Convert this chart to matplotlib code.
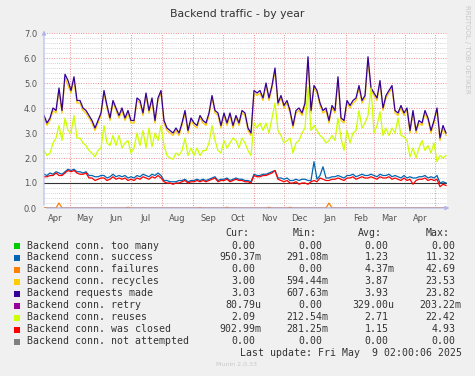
import matplotlib
matplotlib.use('Agg')
import matplotlib.pyplot as plt
import matplotlib.dates as mdates
from matplotlib.ticker import MultipleLocator, NullFormatter
from matplotlib.patches import Rectangle
import pandas as pd

# samples every 3 days, starting early April 2024
start = '2024-04-05'
step = '3D'

requests = [3.7, 3.4, 3.6, 4.0, 3.9, 4.8, 3.9, 5.35, 5.1, 4.7,
            5.25, 4.3, 4.3, 4.0, 3.9, 3.7, 3.5, 3.2, 3.5, 3.8,
            4.7, 4.1, 3.6, 4.3, 4.0, 3.7, 4.0, 3.6, 3.9, 3.5,
            3.5, 4.4, 4.3, 3.8, 4.6, 3.9, 4.4, 3.5, 4.4, 4.7,
            3.5, 3.2, 3.1, 3.0, 3.2, 3.0, 3.4, 3.9, 3.1, 3.6,
            3.4, 3.3, 3.7, 3.5, 3.4, 3.8, 4.5, 3.9, 3.8, 3.3,
            3.8, 3.4, 3.8, 3.3, 3.7, 3.4, 3.9, 3.8, 3.2, 3.0,
            4.7, 4.6, 4.7, 4.4, 5.0, 4.4, 4.9, 5.6, 4.2, 4.5,
            4.1, 4.3, 3.9, 3.3, 3.9, 4.0, 3.8, 4.2, 6.05, 3.9,
            4.9, 4.7, 4.2, 3.9, 4.0, 3.5, 4.1, 3.9, 5.25, 3.6,
            3.5, 4.3, 4.1, 4.3, 4.4, 4.9, 4.3, 4.5, 6.05, 4.8,
            4.6, 4.4, 5.1, 4.0, 4.5, 4.7, 4.9, 3.9, 3.8, 4.1,
            3.8, 4.0, 3.1, 3.9, 3.1, 3.5, 3.4, 3.9, 3.6, 3.1,
            3.5, 4.0, 2.8, 3.3, 3.0]

recycles = [3.6, 3.3, 3.5, 3.9, 3.8, 4.7, 3.8, 5.2, 4.9, 4.6,
            5.1, 4.2, 4.2, 3.9, 3.8, 3.6, 3.4, 3.1, 3.4, 3.7,
            4.6, 4.0, 3.5, 4.2, 3.9, 3.6, 3.9, 3.5, 3.8, 3.4,
            3.4, 4.3, 4.2, 3.7, 4.5, 3.8, 4.3, 3.4, 4.3, 4.6,
            3.4, 3.1, 3.0, 2.9, 3.1, 2.9, 3.3, 3.8, 3.0, 3.5,
            3.3, 3.2, 3.6, 3.4, 3.3, 3.7, 4.4, 3.8, 3.7, 3.2,
            3.7, 3.3, 3.7, 3.2, 3.6, 3.3, 3.8, 3.7, 3.1, 2.9,
            4.6, 4.5, 4.6, 4.3, 4.9, 4.3, 4.8, 5.5, 4.1, 4.4,
            4.0, 4.2, 3.8, 3.2, 3.8, 3.9, 3.7, 4.1, 5.9, 3.8,
            4.8, 4.6, 4.1, 3.8, 3.9, 3.4, 4.0, 3.8, 5.1, 3.5,
            3.4, 4.2, 4.0, 4.2, 4.3, 4.8, 4.2, 4.4, 5.9, 4.7,
            4.5, 4.3, 5.0, 3.9, 4.4, 4.6, 4.8, 3.8, 3.7, 4.0,
            3.7, 3.9, 3.0, 3.8, 3.0, 3.4, 3.3, 3.8, 3.5, 3.0,
            3.4, 3.9, 2.7, 3.2, 2.9]

reuses = [2.3, 2.1, 2.2, 2.6, 2.8, 3.3, 2.7, 3.6, 3.1, 3.0,
          3.7, 2.8, 2.8, 2.6, 2.5, 2.3, 2.2, 2.05, 2.3, 2.4,
          3.3, 2.6, 2.5, 2.9, 2.5, 2.9, 2.4, 2.6, 2.7, 2.2,
          2.4, 3.0, 2.5, 3.1, 2.4, 3.2, 2.45, 3.0, 2.7, 3.3,
          2.5, 2.1, 2.0, 1.95, 2.2, 2.1, 2.3, 2.8, 2.1, 2.4,
          2.1, 2.4, 2.1, 2.3, 2.3, 2.6, 3.3, 2.7, 2.3, 2.2,
          2.7, 2.4, 2.6, 2.8, 2.7, 2.4, 2.8, 2.6, 2.3, 2.1,
          3.4, 3.2, 3.4, 3.1, 3.4, 3.0, 3.6, 4.2, 3.1, 2.9,
          2.6, 2.7, 2.8, 2.2, 2.6, 2.7, 3.0, 3.2, 4.85, 3.1,
          3.3, 3.1, 2.9, 2.8, 2.6, 2.7, 2.9, 2.7, 3.6, 2.8,
          2.3, 3.1, 2.6, 3.0, 3.1, 3.9, 3.2, 3.4, 3.7, 4.8,
          3.0, 3.3, 3.85, 2.9, 3.2, 2.9, 3.2, 3.0, 3.6, 2.9,
          2.85, 2.7, 2.05, 2.4, 2.0, 2.4, 2.7, 2.3, 2.5, 2.2,
          2.6, 1.85, 2.1, 2.0, 2.1]

success = [1.35, 1.3, 1.4, 1.35, 1.45, 1.4, 1.35, 1.45, 1.55, 1.5,
           1.55, 1.45, 1.45, 1.4, 1.45, 1.3, 1.3, 1.25, 1.25, 1.3,
           1.3, 1.2, 1.25, 1.35, 1.25, 1.3, 1.25, 1.3, 1.2, 1.25,
           1.2, 1.3, 1.25, 1.35, 1.3, 1.25, 1.35, 1.3, 1.4, 1.3,
           1.1, 1.1, 1.05, 1.05, 1.05, 1.1, 1.1, 1.15, 1.05, 1.1,
           1.1, 1.15, 1.1, 1.15, 1.1, 1.15, 1.2, 1.25, 1.1, 1.15,
           1.15, 1.2, 1.1, 1.15, 1.2, 1.15, 1.15, 1.1, 1.1, 1.05,
           1.35, 1.3, 1.3, 1.35, 1.35, 1.4, 1.45, 1.5, 1.2, 1.2,
           1.15, 1.2, 1.1, 1.1, 1.15, 1.1, 1.15, 1.15, 1.1, 1.1,
           1.85, 1.15, 1.3, 1.65, 1.2, 1.2, 1.25, 1.25, 1.3, 1.25,
           1.2, 1.3, 1.3, 1.35, 1.25, 1.3, 1.35, 1.3, 1.3, 1.35,
           1.3, 1.25, 1.35, 1.3, 1.3, 1.35, 1.25, 1.3, 1.25, 1.2,
           1.3, 1.2, 1.25, 1.2, 1.2, 1.25, 1.25, 1.3, 1.2, 1.25,
           1.2, 1.3, 1.0, 1.05, 1.0]

closed = [1.25, 1.25, 1.3, 1.3, 1.4, 1.3, 1.3, 1.4, 1.5, 1.45,
          1.5, 1.4, 1.35, 1.35, 1.4, 1.2, 1.2, 1.1, 1.15, 1.2,
          1.2, 1.1, 1.15, 1.25, 1.15, 1.2, 1.15, 1.2, 1.1, 1.15,
          1.1, 1.2, 1.15, 1.25, 1.2, 1.15, 1.25, 1.2, 1.3, 1.2,
          1.05, 1.0, 1.0, 0.95, 1.0, 1.0, 1.05, 1.1, 1.0, 1.05,
          1.05, 1.1, 1.05, 1.1, 1.05, 1.1, 1.15, 1.2, 1.05, 1.1,
          1.1, 1.15, 1.05, 1.1, 1.15, 1.1, 1.1, 1.05, 1.05, 1.0,
          1.3, 1.25, 1.25, 1.3, 1.3, 1.35, 1.4, 1.5, 1.15, 1.1,
          1.05, 1.1, 1.0, 1.0, 1.05, 0.95, 1.0, 1.0, 0.95, 1.05,
          1.1, 1.05, 1.2, 1.15, 1.1, 1.1, 1.15, 1.15, 1.2, 1.15,
          1.1, 1.2, 1.2, 1.25, 1.15, 1.2, 1.25, 1.2, 1.2, 1.25,
          1.2, 1.15, 1.25, 1.2, 1.2, 1.25, 1.15, 1.2, 1.15, 1.1,
          1.2, 1.1, 1.15, 0.95, 1.1, 1.15, 1.15, 1.2, 1.1, 1.15,
          1.1, 1.15, 0.85, 0.95, 0.9]

failures = [0, 0, 0, 0, 0, 0.2, 0, 0, 0, 0,
            0, 0, 0, 0, 0, 0, 0, 0, 0, 0,
            0, 0, 0, 0, 0, 0, 0, 0, 0.03, 0,
            0, 0, 0, 0, 0, 0, 0, 0, 0, 0,
            0, 0, 0, 0, 0, 0, 0, 0, 0, 0,
            0, 0, 0.02, 0, 0, 0, 0, 0, 0, 0,
            0, 0.03, 0, 0, 0, 0, 0, 0, 0, 0,
            0, 0, 0, 0, 0, 0.03, 0, 0, 0, 0,
            0, 0, 0.03, 0, 0, 0, 0, 0, 0, 0,
            0, 0, 0, 0, 0, 0.2, 0, 0, 0, 0,
            0, 0, 0, 0, 0, 0, 0, 0, 0, 0,
            0, 0, 0, 0, 0, 0, 0, 0, 0, 0,
            0, 0, 0, 0, 0, 0, 0, 0, 0, 0,
            0, 0, 0, 0, 0]

zeros = [0] * len(requests)

names = ['Backend conn. too many', 'Backend conn. success', 'Backend conn. failures',
         'Backend conn. recycles', 'Backend requests made', 'Backend conn. retry',
         'Backend conn. reuses', 'Backend conn. was closed', 'Backend conn. not attempted']
colors = ['#00CC00', '#0066B3', '#FF8000', '#FFCC00', '#330099', '#990099',
          '#CCFF00', '#FF0000', '#808080']
cur = ['0.00', '950.37m', '0.00', '3.00', '3.03', '80.79u', '2.09', '902.99m', '0.00']
mins = ['0.00', '291.08m', '0.00', '594.44m', '607.63m', '0.00', '212.54m', '281.25m', '0.00']
avgs = ['0.00', '1.23', '4.37m', '3.87', '3.93', '329.00u', '2.71', '1.15', '0.00']
maxs = ['0.00', '11.32', '42.69', '23.53', '23.82', '203.22m', '22.42', '4.93', '0.00']

dates = pd.date_range(start, periods=len(requests), freq=step)
series = [zeros, success, failures, recycles, requests, zeros, reuses, closed, zeros]

W, H = 475, 376
fig = plt.figure(figsize=(W / 100, H / 100), dpi=100, facecolor='#F0F0F0')
ax = fig.add_axes([44 / W, 1 - 208 / H, 403 / W, 175 / H])
ax.set_facecolor('white')

for s, c in zip(series, colors):
    ax.plot(dates, s, color=c, lw=0.9, zorder=3)
ax.axhline(1.0, color='#333333', lw=0.8, zorder=2.5)

ax.set_ylim(0, 7)
ax.set_xlim(pd.Timestamp('2024-04-05'), pd.Timestamp('2025-05-13'))
ax.yaxis.set_major_locator(MultipleLocator(1))
ax.yaxis.set_minor_locator(MultipleLocator(0.2))
ax.yaxis.set_major_formatter(plt.FuncFormatter(lambda v, p: '%.1f' % v))
ax.xaxis.set_major_locator(mdates.MonthLocator(bymonthday=1))
ax.xaxis.set_major_formatter(NullFormatter())
ax.xaxis.set_minor_locator(mdates.MonthLocator(bymonthday=16))
ax.xaxis.set_minor_formatter(mdates.DateFormatter('%b'))
ax.tick_params(which='both', length=0, labelsize=6, colors='#555555')
ax.tick_params(axis='y', pad=5)
ax.tick_params(axis='x', which='minor', pad=4)

ax.grid(which='minor', axis='y', color='#C4C4C4', ls=(0, (1, 1.5)), lw=0.6, zorder=0)
ax.grid(which='major', axis='y', color='#EE9090', ls=(0, (1, 1.5)), lw=0.7, zorder=1)
ax.grid(which='major', axis='x', color='#EE9090', ls=(0, (1, 1.5)), lw=0.7, zorder=1)
ax.set_axisbelow(True)
for sp in ax.spines.values():
    sp.set_visible(False)

arrow_c = '#B4B4EC'
ax.annotate('', xy=(0, 1.03), xytext=(0, 0), xycoords='axes fraction',
            arrowprops=dict(arrowstyle='-|>', color=arrow_c, lw=0.8, mutation_scale=6))
ax.annotate('', xy=(1.013, 0), xytext=(0, 0), xycoords='axes fraction',
            arrowprops=dict(arrowstyle='-|>', color=arrow_c, lw=0.8, mutation_scale=6))

fig.text(237 / W, 1 - 14 / H, 'Backend traffic - by year', ha='center', va='center',
         fontsize=7.8, color='#333333')
fig.text(467 / W, 1 - 5 / H, 'RRDTOOL / TOBI OETIKER', rotation=270, ha='center', va='top',
         fontsize=5, color='#C8C8C8')

mono = 'DejaVu Sans Mono'
fs = 7.1
cw = 5.95
tc = '#333333'
for x, t in [(225.7, 'Cur:'), (292.7, 'Min:'), (358, 'Avg:'), (425.7, 'Max:')]:
    fig.text(x / W, 1 - 233.5 / H, t, family=mono, fontsize=fs, color=tc, va='center')

for i in range(len(names)):
    y = 245.5 + 12 * i
    fig.patches.append(Rectangle((14 / W, 1 - (y + 3) / H), 6 / W, 6 / H,
                                 transform=fig.transFigure, facecolor=colors[i],
                                 edgecolor='none', figure=fig))
    fig.text(26.7 / W, 1 - y / H, names[i], family=mono, fontsize=fs, color=tc, va='center')
    for r, v in zip([261.7, 328.3, 394.3, 461.7], [cur[i], mins[i], avgs[i], maxs[i]]):
        rr = r if v[-1] in 'mu' else r - cw
        fig.text(rr / W, 1 - y / H, v, family=mono, fontsize=fs, color=tc,
                 ha='right', va='center')

fig.text(461.7 / W, 1 - 353.5 / H, 'Last update: Fri May  9 02:00:06 2025', family=mono,
         fontsize=fs, color=tc, ha='right', va='center')
fig.text(237 / W, 1 - 364 / H, 'Munin 2.0.33', ha='center', va='center',
         fontsize=4.5, color='#C8C8C8')

fig.savefig('out.png', dpi=100, facecolor=fig.get_facecolor())
